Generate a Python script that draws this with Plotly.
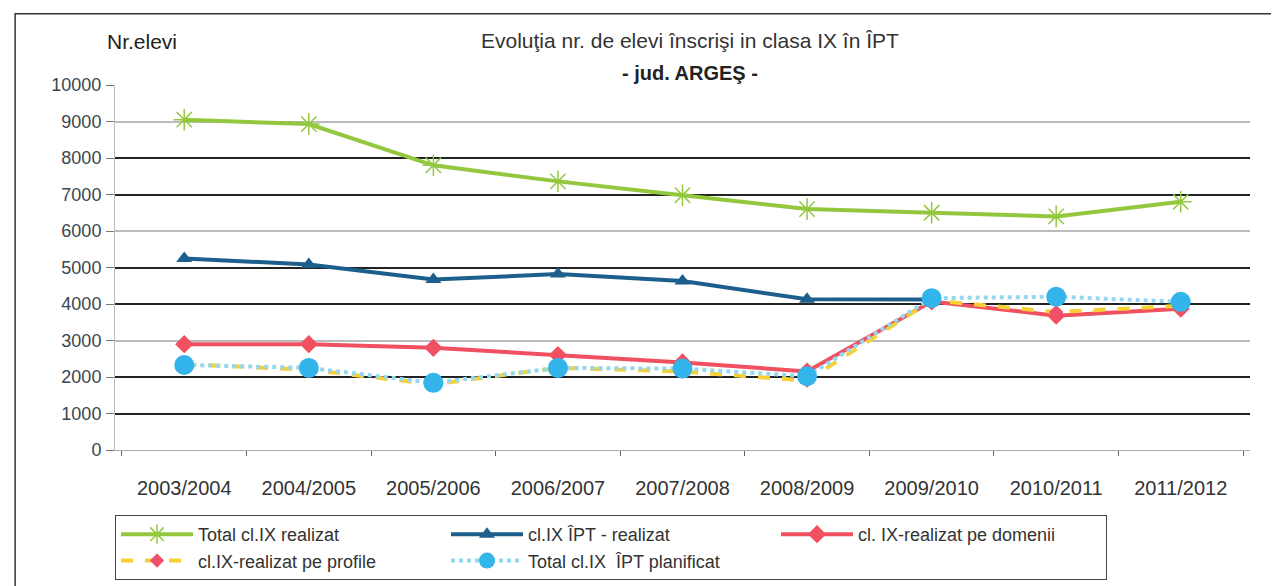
import plotly.graph_objects as go

categories = ["2003/2004", "2004/2005", "2005/2006", "2006/2007", "2007/2008",
              "2008/2009", "2009/2010", "2010/2011", "2011/2012"]
total_realizat = [9050, 8930, 7800, 7360, 6980, 6600, 6500, 6400, 6800]
ipt_realizat = [5250, 5080, 4670, 4820, 4630, 4130, 4120, None, None]
realizat_domenii = [2900, 2900, 2800, 2600, 2400, 2150, 4070, 3680, 3870]
realizat_profile = [2350, 2200, 1800, 2250, 2150, 1900, 4100, 3780, 3950]
planificat = [2330, 2250, 1840, 2250, 2230, 2020, 4160, 4200, 4060]

y_ticks = list(range(0, 10001, 1000))
y_ticktext = [str(v) for v in y_ticks]
dark_grid = [1000, 2000, 4000, 5000, 7000, 8000]
light_grid = [3000, 6000, 9000]

FONT = "Liberation Sans, Arial, sans-serif"
fig = go.Figure()

fig.add_trace(go.Scatter(
    x=categories, y=total_realizat, name="Total cl.IX realizat", mode="lines+markers",
    line=dict(color="#93c83e", width=4),
    marker=dict(symbol="asterisk-open", size=18, color="#93c83e", line=dict(color="#93c83e", width=1.5))))
fig.add_trace(go.Scatter(
    x=categories, y=ipt_realizat, name="cl.IX ÎPT - realizat", mode="lines+markers",
    line=dict(color="#1d5f8c", width=4),
    marker=dict(symbol="triangle-up", size=14, color="#1d5f8c")))
fig.add_trace(go.Scatter(
    x=categories, y=realizat_domenii, name="cl. IX-realizat pe domenii", mode="lines+markers",
    line=dict(color="#f0505f", width=4),
    marker=dict(symbol="diamond", size=14, color="#f0505f")))
fig.add_trace(go.Scatter(
    x=categories, y=realizat_profile, name="cl.IX-realizat pe profile", mode="lines+markers",
    line=dict(color="#f6d035", width=4, dash="dash"),
    marker=dict(symbol="diamond", size=11, color="#f0506a")))
fig.add_trace(go.Scatter(
    x=categories, y=planificat, name="Total cl.IX  ÎPT planificat", mode="lines+markers",
    line=dict(color="#92d8f2", width=4, dash="dot"),
    marker=dict(symbol="circle", size=20, color="#33b4ea")))

fig.update_layout(
    width=1271, height=578,
    margin=dict(l=107, r=29, t=77, b=136, autoexpand=False),
    paper_bgcolor="white", plot_bgcolor="white",
    font=dict(family=FONT, color="#333333", size=18),
    showlegend=True,
    legend=dict(orientation="h", x=0.0, xanchor="left", y=-0.178, yanchor="top",
                bordercolor="#444444", borderwidth=1, font=dict(size=18, color="#333333"),
                itemwidth=72, entrywidth=243, entrywidthmode="pixels", bgcolor="white"),
    xaxis=dict(type="category", showline=True, linecolor="#aaaaaa", linewidth=1,
               ticks="outside", tickson="boundaries", ticklen=5, tickcolor="#666666",
               showgrid=False, tickfont=dict(size=20, color="#333333"), zeroline=False,
               ticklabelstandoff=20),
    yaxis=dict(range=[0, 10000], tickvals=y_ticks, ticktext=y_ticktext, showgrid=False, showline=True,
               linecolor="#bbbbbb", linewidth=1, ticks="outside", ticklen=8, tickcolor="#777777",
               tickfont=dict(size=18, color="#3a4650"), zeroline=False, ticklabelstandoff=1),
    yaxis2=dict(range=[0, 10000], overlaying="y", tickvals=dark_grid, showticklabels=False,
                showgrid=True, gridcolor="#222222", gridwidth=1.5, zeroline=False, showline=False),
    yaxis3=dict(range=[0, 10000], overlaying="y", tickvals=light_grid, showticklabels=False,
                showgrid=True, gridcolor="#bbbbbb", gridwidth=1.5, zeroline=False, showline=False),
)

# ensure overlaying axes get drawn
fig.add_trace(go.Scatter(x=[categories[0]], y=[None], yaxis="y2", showlegend=False, hoverinfo="skip"))
fig.add_trace(go.Scatter(x=[categories[0]], y=[None], yaxis="y3", showlegend=False, hoverinfo="skip"))

fig.add_annotation(text="Nr.elevi", xref="paper", yref="paper", x=-0.009, y=1.118,
                   xanchor="left", yanchor="middle", showarrow=False,
                   font=dict(size=21, color="#222222", family=FONT))
fig.add_annotation(text="Evoluţia nr. de elevi înscrişi in clasa IX în ÎPT", xref="paper", yref="paper",
                   x=0.507, y=1.123, xanchor="center", yanchor="middle", showarrow=False,
                   font=dict(size=21, color="#333333", family=FONT))
fig.add_annotation(text="<b>- jud. ARGEŞ -</b>", xref="paper", yref="paper",
                   x=0.507, y=1.033, xanchor="center", yanchor="middle", showarrow=False,
                   font=dict(size=20, color="#222222", family=FONT))

fig.add_shape(type="rect", xref="paper", yref="paper", x0=-0.088, x1=1.05, y0=-0.4, y1=1.195,
              line=dict(color="#333333", width=1.5), fillcolor="rgba(0,0,0,0)", layer="below")

fig.write_html("out.html")
